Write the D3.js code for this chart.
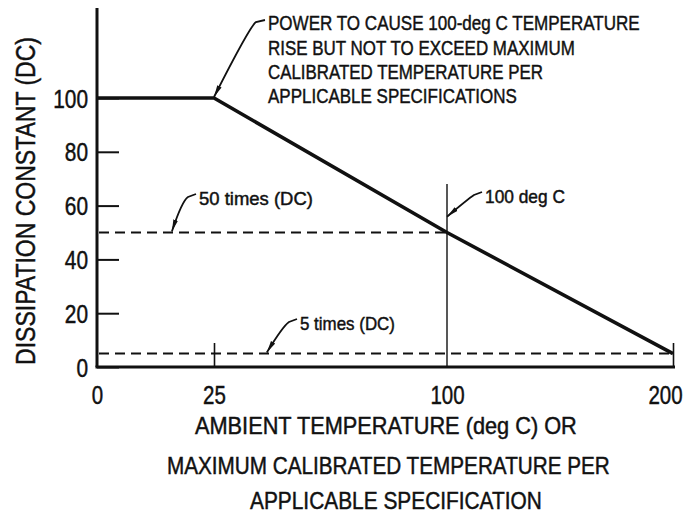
<!DOCTYPE html>
<html>
<head>
<meta charset="utf-8">
<script src="https://cdn.jsdelivr.net/npm/d3@7"></script>
<style>
  html, body { margin: 0; padding: 0; background: #fff; }
  svg { display: block; }
  text { font-family: "Liberation Sans", Arial, "DejaVu Sans Condensed", sans-serif; fill: #111; stroke: #111; stroke-width: 0.45px; }
</style>
</head>
<body>
<svg id="chart" width="687" height="517"></svg>
<script>
// ---------------- data ----------------
const xTickValues = [0, 25, 100, 200];
const yTickValues = [0, 20, 40, 60, 80, 100];
const curveTemps = [0, 25, 100, 200];
const curveDC = [100, 100, 50, 5];
const dashLevels = [50, 5];
const dashEndTemps = [100, 200];
const refTemp = 100;
const refTopDC = 68;
const yTitle = "DISSIPATION CONSTANT (DC)";
const xTitleLines = ["AMBIENT TEMPERATURE (deg C) OR", "MAXIMUM CALIBRATED TEMPERATURE PER", "APPLICABLE SPECIFICATION"];
const noteLines = ["POWER TO CAUSE 100-deg C TEMPERATURE", "RISE BUT NOT TO EXCEED MAXIMUM", "CALIBRATED TEMPERATURE PER", "APPLICABLE SPECIFICATIONS"];
const labelTexts = ["50 times (DC)", "100 deg C", "5 times (DC)"];
const labelTemps = [16, 100, 42];
const labelDC = [50, 55.5, 5];

// ---------------- scales ----------------
const svg = d3.select("#chart");
const x = d3.scaleLinear().domain([0, 25, 100, 200]).range([97, 214, 447, 673]);
const y = d3.scaleLinear().domain([0, 100]).range([367, 98]);
const ink = "#111";

// horizontally condensed text placed via transform (keeps bbox honest)
function condensed(parent, str, px, py, size, width, anchor, rot) {
  const t = parent.append("text").attr("font-size", size).attr("text-anchor", anchor || "start").text(str);
  const sx = width / t.node().getComputedTextLength();
  t.attr("transform", `translate(${px},${py})` + (rot ? ` rotate(${rot})` : "") + ` scale(${sx},1)`);
  return t;
}

// arrow marker
svg.append("defs").append("marker")
  .attr("id", "arr").attr("markerUnits", "userSpaceOnUse")
  .attr("viewBox", "0 0 12 6").attr("refX", 12).attr("refY", 3)
  .attr("markerWidth", 12).attr("markerHeight", 6).attr("orient", "auto")
  .append("path").attr("d", "M0,0.6 L12,3 L0,5.4 Z").attr("fill", ink);

// ---------------- axes ----------------
svg.append("line").attr("x1", x(0)).attr("x2", x(0)).attr("y1", y(0)).attr("y2", 8)
  .attr("stroke", ink).attr("stroke-width", 3);
svg.append("line").attr("x1", x(0) - 1.5).attr("x2", x(200) + 2).attr("y1", y(0)).attr("y2", y(0))
  .attr("stroke", ink).attr("stroke-width", 3);

const yAxis = svg.append("g").attr("transform", `translate(${x(0)},0)`)
  .call(d3.axisLeft(y).tickValues(yTickValues).tickSizeInner(-22).tickSizeOuter(0).tickFormat(""));
yAxis.select(".domain").remove();
yAxis.selectAll(".tick line").attr("stroke", ink).attr("stroke-width", 2);
yAxis.selectAll(".tick").each(function (d) {
  const s = String(d);
  condensed(d3.select(this), s, -9, 9, 25, s.length * 11.6, "end");
});

const xMarks = svg.append("g").attr("transform", `translate(0,${y(0)})`)
  .call(d3.axisTop(x).tickValues([25, 200]).tickSizeInner(24).tickSizeOuter(0).tickFormat(""));
xMarks.select(".domain").remove();
xMarks.selectAll(".tick line").attr("stroke", ink).attr("stroke-width", 1.6);

const xAxis = svg.append("g").attr("transform", `translate(0,${y(0)})`)
  .call(d3.axisBottom(x).tickValues(xTickValues).tickSize(0).tickFormat(""));
xAxis.select(".domain").remove();
xAxis.selectAll(".tick").each(function (d) {
  const s = String(d);
  condensed(d3.select(this), s, d === 200 ? -8 : 0, 37, 25, s.length * 11.4, "middle");
});

// ---------------- reference lines ----------------
svg.append("line").attr("x1", x(refTemp)).attr("x2", x(refTemp))
  .attr("y1", y(0)).attr("y2", y(refTopDC)).attr("stroke", ink).attr("stroke-width", 1.4);

svg.selectAll(".dash").data(dashLevels).enter().append("line")
  .attr("x1", x(0) + 2).attr("x2", (d, i) => x(dashEndTemps[i]))
  .attr("y1", d => y(d)).attr("y2", d => y(d))
  .attr("stroke", ink).attr("stroke-width", 2).attr("stroke-dasharray", "10,6");

// ---------------- main curve ----------------
const pts = curveTemps.map((t, i) => [t, curveDC[i]]);
svg.append("path").datum(pts)
  .attr("d", d3.line().x(d => x(d[0])).y(d => y(d[1])))
  .attr("fill", "none").attr("stroke", ink).attr("stroke-width", 3.6)
  .attr("stroke-linejoin", "round");

// ---------------- annotations ----------------
function leader(tx, ty, sx, sy, hx, hy) {
  const p = d3.path();
  p.moveTo(sx, sy);
  p.lineTo(hx, hy);
  p.quadraticCurveTo(hx - 6, hy + 4, tx, ty);
  svg.append("path").attr("d", p.toString()).attr("fill", "none")
    .attr("stroke", ink).attr("stroke-width", 1.8).attr("marker-end", "url(#arr)");
}

leader(x(25), y(100) - 1, 265, 20, 256, 22);
const noteWidths = [372, 307, 275, 249];
const noteBase = [30, 55, 79, 103];
noteLines.forEach((t, i) => condensed(svg, t, 268, noteBase[i], 21, noteWidths[i]));

const labelPos = [[199, 205, 114], [485, 203, 80], [300, 330, 95]];
labelTexts.forEach((t, i) => {
  const [lx, ly, lw] = labelPos[i];
  leader(x(labelTemps[i]), y(labelDC[i]) - 1, lx - 3, ly - 11, lx - 11, ly - 8);
  condensed(svg, t, lx, ly, 18, lw);
});

// ---------------- titles ----------------
condensed(svg, yTitle, 35, 201, 28, 328, "middle", -90);

const xtStart = [195, 167, 250];
const xtWidth = [382, 443, 292];
const xtBase = [434, 474, 509];
xTitleLines.forEach((t, i) => condensed(svg, t, xtStart[i], xtBase[i], 23, xtWidth[i]));
</script>
</body>
</html>
